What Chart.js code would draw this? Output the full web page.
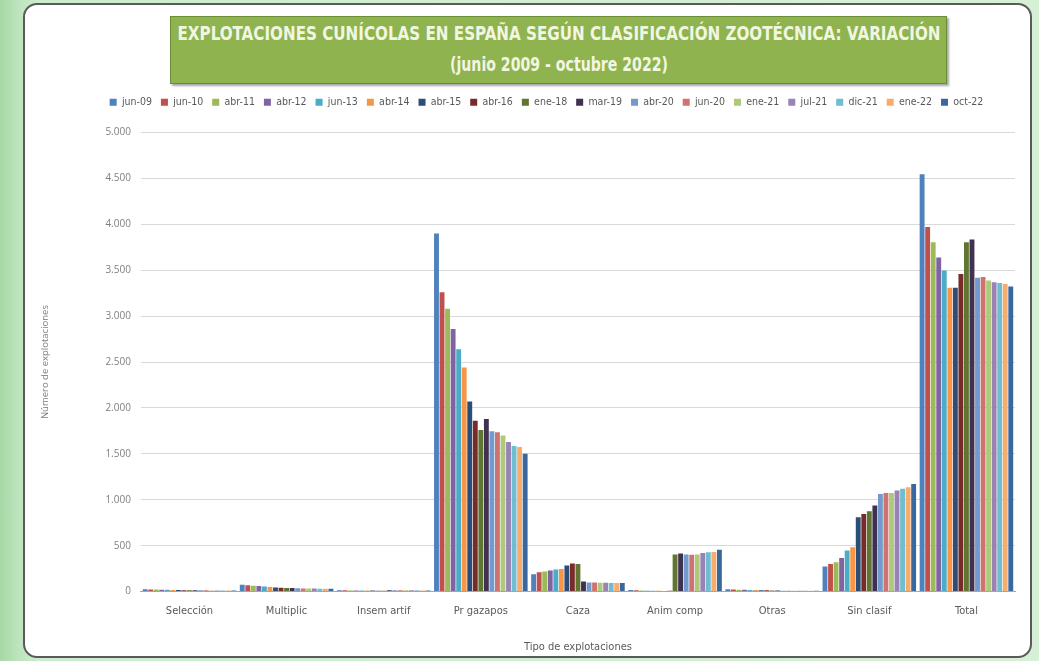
<!DOCTYPE html>
<html>
<head>
<meta charset="utf-8">
<script src="https://cdn.jsdelivr.net/npm/chart.js@4/dist/chart.umd.min.js"></script>
<style>
  html, body { margin: 0; padding: 0; }
  body { width: 1039px; height: 661px; overflow: hidden; position: relative;
         background: linear-gradient(90deg, #a6d8a6 0px, #bfe5bf 20px, #cdeccd 40px, #d6f0d6 100%); }
  #panel { position: absolute; left: 23px; top: 3px; width: 1005px; height: 651px;
           background: #ffffff; border: 2px solid #5a5a5a; border-radius: 14px; }
  #titlebox { position: absolute; left: 170px; top: 16px; width: 777px; height: 68px;
              background: #8fb34e; border: 1px solid #6d8c38;
              box-shadow: 2px 2px 2px rgba(0,0,0,0.35);
              color: #f1f6e2; box-sizing: border-box;
              font-family: "DejaVu Sans Condensed", "Open Sans", sans-serif; font-weight: bold; }
  .tl { position: absolute; left: 50%; white-space: nowrap; transform-origin: center center; }
  #t1 { top: 5px; font-size: 19px; }
  #t2 { top: 36px; font-size: 19px; }
  #wrap { position: absolute; left: 0; top: 0; width: 1039px; height: 661px; }
</style>
</head>
<body>
<div id="panel"></div>
<div id="titlebox">
  <span class="tl" id="t1">EXPLOTACIONES CUNÍCOLAS EN ESPAÑA SEGÚN CLASIFICACIÓN ZOOTÉCNICA: VARIACIÓN</span>
  <span class="tl" id="t2">(junio 2009 - octubre 2022)</span>
</div>
<div id="wrap"><canvas id="c" width="1039" height="661"></canvas></div>
<script>
// Categories (x axis)
const categories = ["Selección", "Multiplic", "Insem artif", "Pr gazapos", "Caza", "Anim comp", "Otras", "Sin clasif", "Total"];
// Series (legend)
const seriesNames = ["jun-09", "jun-10", "abr-11", "abr-12", "jun-13", "abr-14", "abr-15", "abr-16", "ene-18",
                     "mar-19", "abr-20", "jun-20", "ene-21", "jul-21", "dic-21", "ene-22", "oct-22"];
// Values per category, in series order
const seleccion  = [25, 22, 22, 20, 20, 18, 18, 16, 15, 15, 14, 14, 13, 13, 13, 12, 12];
const multiplic  = [75, 70, 65, 60, 55, 50, 45, 42, 40, 38, 36, 35, 34, 33, 32, 31, 30];
const insemArtif = [15, 14, 13, 12, 12, 11, 11, 10, 10, 14, 16, 15, 15, 14, 14, 13, 13];
const prGazapos  = [3900, 3260, 3080, 2860, 2640, 2440, 2070, 1860, 1760, 1880, 1745, 1735, 1700, 1630, 1585, 1575, 1500];
const caza       = [190, 210, 220, 230, 240, 245, 283, 305, 300, 110, 100, 98, 97, 96, 95, 95, 93];
const animComp   = [18, 15, 12, 10, 8, 8, 6, 10, 405, 415, 405, 400, 405, 420, 428, 430, 455];
const otras      = [25, 22, 20, 20, 18, 18, 16, 15, 12, 12, 10, 10, 10, 9, 9, 9, 8];
const sinClasif  = [272, 300, 320, 367, 447, 483, 810, 846, 875, 937, 1064, 1075, 1075, 1100, 1119, 1136, 1173];
const total      = [4545, 3970, 3805, 3640, 3497, 3308, 3308, 3460, 3805, 3834, 3417, 3425, 3388, 3370, 3360, 3350, 3322];
// Y tick values
const yTicks = [0, 500, 1000, 1500, 2000, 2500, 3000, 3500, 4000, 4500, 5000];

const byCategory = [seleccion, multiplic, insemArtif, prGazapos, caza, animComp, otras, sinClasif, total];
const colors = ["#4F81BD", "#C0504D", "#9BBB59", "#8064A2", "#4BACC6", "#F79646", "#2C4D75", "#772C2A", "#5F7530",
                "#3F3151", "#729ACA", "#CD7371", "#AFC97A", "#9983B5", "#6FBDD1", "#F9AB6B", "#3A679C"];

// Fit title lines to the reference's width
(function () {
  [['t1', 763], ['t2', 218]].forEach(([id, w]) => {
    const el = document.getElementById(id);
    const k = w / el.getBoundingClientRect().width;
    el.style.transform = 'translateX(-50%) scaleX(' + k + ')';
  });
})();

const datasets = seriesNames.map((name, s) => ({
  label: name,
  data: byCategory.map(arr => arr[s]),
  backgroundColor: colors[s],
  borderWidth: 0,
  categoryPercentage: 0.97,
  barPercentage: 0.88
}));

const narrow = '"DejaVu Sans Condensed", "Open Sans", sans-serif';

const legendPad = {
  id: 'legendPad',
  beforeInit(chart) {
    const orig = chart.legend.fit;
    chart.legend.fit = function () { orig.bind(chart.legend)(); this.height += 15; };
  },
  afterLayout(chart) {
    chart.legend.left += 24;
    chart.legend.right += 24;
  }
};

new Chart(document.getElementById('c'), {
  type: 'bar',
  data: { labels: categories, datasets },
  plugins: [legendPad],
  options: {
    responsive: false,
    animation: false,
    layout: { padding: { left: 30, right: 24, top: 88, bottom: 4 } },
    plugins: {
      legend: {
        position: 'top',
        labels: { boxWidth: 7, boxHeight: 7, padding: 9, color: '#595959',
                  font: { family: narrow, size: 10.5 } }
      },
      tooltip: { enabled: false }
    },
    scales: {
      x: {
        grid: { display: false },
        border: { color: '#a6a6a6' },
        ticks: { color: '#595959', padding: 5, font: { family: narrow, size: 11 } },
        title: { display: true, text: 'Tipo de explotaciones', color: '#595959',
                 font: { family: narrow, size: 11 }, padding: { top: 18, bottom: 3 } }
      },
      y: {
        min: 0, max: 5000,
        afterBuildTicks(scale) { scale.ticks = yTicks.map(v => ({ value: v })); },
        grid: { color: '#d9d9d9', drawTicks: false },
        border: { display: false },
        ticks: {
          color: '#7f7f7f', padding: 10, font: { family: '"Open Sans", sans-serif', size: 10 },
          callback: v => v.toLocaleString('de-DE')
        },
        title: { display: true, text: 'Número de explotaciones', color: '#7f7f7f',
                 font: { family: '"Open Sans", sans-serif', size: 9.5 }, padding: { top: 10, bottom: 44 } }
      }
    }
  }
});
</script>
</body>
</html>
